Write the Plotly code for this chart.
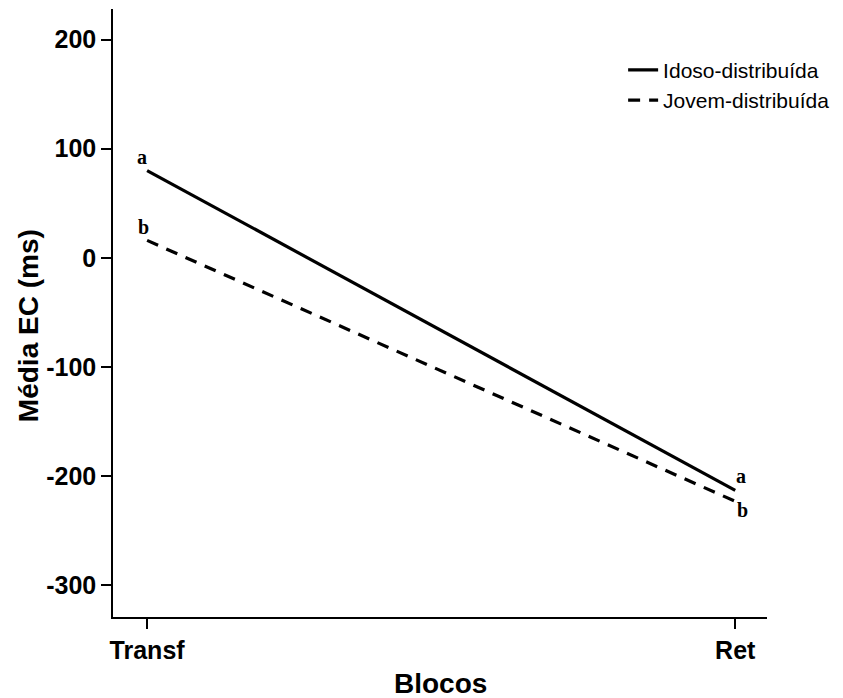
import plotly.graph_objects as go

# Blocks on the x axis and mean EC (ms) for each group
blocos = ["Transf", "Ret"]
idoso_distribuida = [80, -213]
jovem_distribuida = [16, -223]

# Significance letters per block, per group
letras_idoso = ["a", "a"]
letras_jovem = ["b", "b"]

y_ticks = [-300, -200, -100, 0, 100, 200]

x_idx = list(range(len(blocos)))

fig = go.Figure()
fig.add_trace(go.Scatter(
    x=x_idx, y=idoso_distribuida, mode="lines", name="Idoso-distribuída",
    line=dict(color="black", width=3.2),
))
fig.add_trace(go.Scatter(
    x=x_idx, y=jovem_distribuida, mode="lines", name="Jovem-distribuída",
    line=dict(color="black", width=3.2, dash="12px,9px"),
))

serif = dict(family="Liberation Serif, Times New Roman, serif", size=20, color="black")
# letters: above the lines at the start, to the right of the ends
for i, (xi, yv, lt) in enumerate(zip(x_idx, idoso_distribuida, letras_idoso)):
    fig.add_annotation(x=xi, y=yv, text=f"<b>{lt}</b>", showarrow=False, font=serif,
                       xshift=-5 if i == 0 else 6, yshift=14)
for i, (xi, yv, lt) in enumerate(zip(x_idx, jovem_distribuida, letras_jovem)):
    fig.add_annotation(x=xi, y=yv, text=f"<b>{lt}</b>", showarrow=False, font=serif,
                       xshift=-4 if i == 0 else 7, yshift=13 if i == 0 else -9)

sans_b = "Liberation Sans, Arial, sans-serif"

fig.add_annotation(xref="paper", yref="paper", x=-0.13, y=0.48, xanchor="center", yanchor="middle",
                   text="<b>Média EC (ms)</b>", textangle=-90, showarrow=False,
                   font=dict(family=sans_b, size=28, color="black"))
fig.add_annotation(xref="paper", yref="paper", x=0.5, y=-0.109, xanchor="center", yanchor="middle",
                   text="<b>Blocos</b>", showarrow=False,
                   font=dict(family=sans_b, size=28, color="black"))

fig.update_layout(
    width=843, height=698,
    margin=dict(l=113, r=76, t=9, b=81, autoexpand=False),
    paper_bgcolor="white", plot_bgcolor="white",
    showlegend=True,
    legend=dict(x=0.78, y=0.933, xanchor="left", yanchor="top",
                font=dict(family=sans_b, size=21, color="black"),
                bgcolor="rgba(0,0,0,0)", tracegroupgap=0, itemwidth=30),
    font=dict(family=sans_b, color="black"),
)
fig.update_xaxes(
    range=[-0.058, 1.054], tickvals=x_idx, ticktext=[f"<b>{b}</b>" for b in blocos],
    showline=True, linecolor="black", linewidth=1.5, ticks="outside", ticklen=10,
    tickwidth=1.5, tickcolor="black", showgrid=False, zeroline=False,
    tickfont=dict(family=sans_b, size=25, color="black"),
)
fig.update_yaxes(
    range=[-329, 228], tickvals=y_ticks, ticktext=[f"<b>{v}</b>" for v in y_ticks],
    showline=True, linecolor="black", linewidth=1.5, ticks="outside", ticklen=10,
    tickwidth=1.5, tickcolor="black", showgrid=False, zeroline=False,
    tickfont=dict(family=sans_b, size=25, color="black"),
)

fig.write_html("out.html")
